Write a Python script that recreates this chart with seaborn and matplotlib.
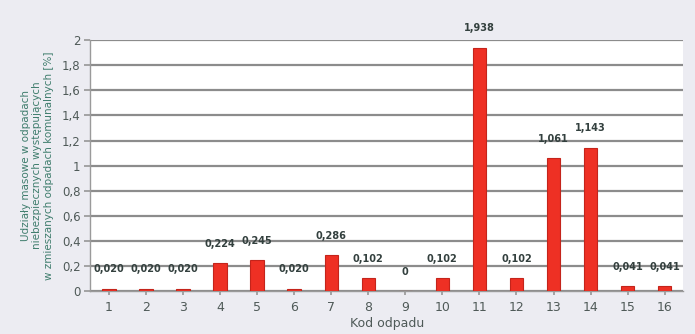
import matplotlib
matplotlib.use("Agg")
import matplotlib.pyplot as plt
import seaborn as sns
import pandas as pd
from matplotlib.ticker import FuncFormatter

# Waste codes and their mass shares [%]
codes = [str(i) for i in range(1, 17)]
shares = [0.020, 0.020, 0.020, 0.224, 0.245, 0.020, 0.286, 0.102,
          0.0, 0.102, 1.938, 0.102, 1.061, 1.143, 0.041, 0.041]
labels = ["0,020", "0,020", "0,020", "0,224", "0,245", "0,020", "0,286", "0,102",
          "0", "0,102", "1,938", "0,102", "1,061", "1,143", "0,041", "0,041"]
y_ticks = [0, 0.2, 0.4, 0.6, 0.8, 1.0, 1.2, 1.4, 1.6, 1.8, 2.0]

df = pd.DataFrame({"kod": codes, "udzial": shares})

sns.set_theme(style="white")
plt.rcParams["font.family"] = ["DejaVu Sans"]

fig = plt.figure(figsize=(6.95, 3.34), dpi=100, facecolor="#ececf2")
ax = fig.add_axes([0.130, 0.128, 0.853, 0.752])
ax.set_facecolor("white")

sns.barplot(data=df, x="kod", y="udzial", ax=ax, color="#ee3024",
            width=0.36, edgecolor="#c4241b", linewidth=0.8, zorder=3,
            saturation=1)

ax.set_ylim(0, 2.0)
ax.set_xlim(-0.5, len(codes) - 0.5)
ax.set_yticks(y_ticks)
ax.yaxis.set_major_formatter(FuncFormatter(
    lambda v, _: ("%g" % round(v, 1)).replace(".", ",")))
ax.yaxis.grid(True, color="#8c8c8c", linewidth=1.6, zorder=0)
ax.xaxis.grid(False)

for s in ["top", "right"]:
    ax.spines[s].set_visible(False)
ax.spines["left"].set_color("#9a9a9a")
ax.spines["bottom"].set_color("#9a9a9a")
ax.spines["left"].set_linewidth(1.0)
ax.spines["bottom"].set_linewidth(1.0)

ax.tick_params(axis="y", left=True, length=4, color="#9a9a9a",
               labelsize=8.5, labelcolor="#4f5a58", pad=3)
ax.tick_params(axis="x", bottom=True, length=3, color="#9a9a9a",
               labelsize=9, labelcolor="#4f5a58", pad=4)

for i, (v, lab) in enumerate(zip(shares, labels)):
    ax.annotate(lab, (i, v), xytext=(0, 14), textcoords="offset points",
                ha="center", va="center", fontsize=7, fontweight="bold",
                color="#33403e", zorder=4)

ax.set_xlabel("Kod odpadu", fontsize=9, color="#4f5a58", labelpad=2)
ax.set_ylabel("Udziały masowe w odpadach\nniebezpiecznych występujących\n"
              "w zmieszanych odpadach komunalnych [%]",
              fontsize=7.5, color="#3f7d6d", labelpad=6, linespacing=1.15)

fig.savefig("out.png", dpi=100, facecolor=fig.get_facecolor())
